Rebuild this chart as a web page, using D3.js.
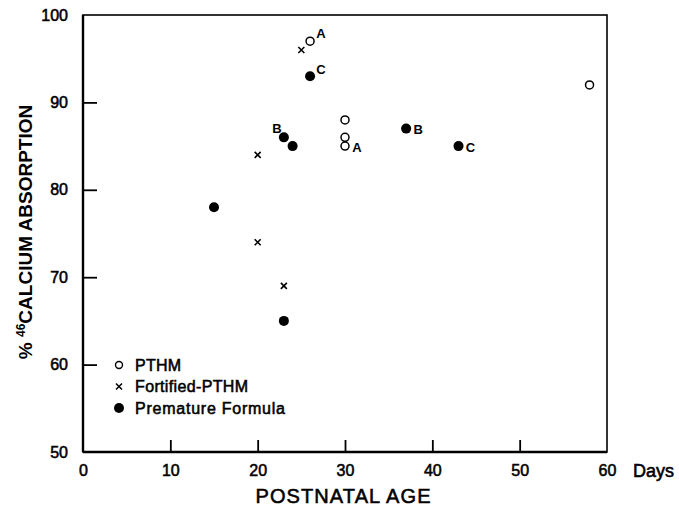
<!DOCTYPE html>
<html>
<head>
<meta charset="utf-8">
<script src="https://cdn.jsdelivr.net/npm/d3@7"></script>
<style>
  body { margin: 0; background: #fff; }
  svg { font-family: "Liberation Sans", Arial, sans-serif; }
  .med { stroke: #000; stroke-width: 0.55px; }
</style>
</head>
<body>
<div id="js_chart"></div>
<script>
// data (day, % absorption, label)
const pthm = [
    {x: 26, y: 97, lab: "A"},
    {x: 30, y: 88, lab: ""},
    {x: 30, y: 86, lab: ""},
    {x: 30, y: 85, lab: "A"},
    {x: 58, y: 92, lab: ""}
];
const fortified = [
    {x: 25, y: 96},
    {x: 20, y: 84},
    {x: 20, y: 74},
    {x: 23, y: 69}
];
const premature = [
    {x: 26, y: 93, lab: "C"},
    {x: 23, y: 86, lab: "B"},
    {x: 24, y: 85, lab: ""},
    {x: 15, y: 78, lab: ""},
    {x: 23, y: 65, lab: ""},
    {x: 37, y: 87, lab: "B"},
    {x: 43, y: 85, lab: "C"}
];
const legendNames = ["PTHM", "Fortified-PTHM", "Premature Formula"];
const xTicks = [0, 10, 20, 30, 40, 50, 60];
const yTicks = [50, 60, 70, 80, 90, 100];

// where each letter sits next to its point
const labelPlace = {
    "pthm-0": [11, -8], "pthm-3": [12, 1],
    "prem-0": [11, -7], "prem-1": [-7, -9],
    "prem-5": [12, 1], "prem-6": [12, 1]
};

let margin = {top: 15, left: 83},
    width = 524,
    height = 437;

let svg = d3.select("#js_chart").append("svg")
    .attr("width", 679)
    .attr("height", 506);

let x = d3.scaleLinear().domain([0, 60]).range([margin.left, margin.left + width]);
let y = d3.scaleLinear().domain([50, 100]).range([margin.top + height, margin.top]);

// ******************************************************
// frame + ticks
// ******************************************************
svg.append("rect")
    .attr("x", x(0)).attr("y", y(100))
    .attr("width", width).attr("height", height)
    .attr("fill", "none").attr("stroke", "#000").attr("stroke-width", 1.6);

svg.append("line")
    .attr("x1", x(0)).attr("x2", x(60)).attr("y1", y(50)).attr("y2", y(50))
    .attr("stroke", "#000").attr("stroke-width", 2.4);
svg.append("line")
    .attr("x1", x(0)).attr("x2", x(0)).attr("y1", y(100)).attr("y2", y(50))
    .attr("stroke", "#000").attr("stroke-width", 2.4);

let xAx = svg.append("g")
    .attr("transform", "translate(0," + y(50) + ")")
    .call(d3.axisBottom(x).tickValues(xTicks.slice(1, -1)).tickSize(-12).tickFormat(""));
xAx.select(".domain").remove();
xAx.selectAll("line").attr("stroke-width", 1.8);

let yAx = svg.append("g")
    .attr("transform", "translate(" + x(0) + ",0)")
    .call(d3.axisLeft(y).tickValues(yTicks.slice(1, -1)).tickSize(-14).tickFormat(""));
yAx.select(".domain").remove();
yAx.selectAll("line").attr("stroke-width", 1.8);

let xLab = svg.append("g")
    .attr("transform", "translate(0," + y(50) + ")")
    .call(d3.axisBottom(x).tickValues(xTicks).tickSize(0).tickPadding(13));
xLab.select(".domain").remove();
xLab.selectAll("text").attr("font-size", 16).attr("class", "med")
    .attr("font-family", null).attr("fill", "#000");

let yLab = svg.append("g")
    .attr("transform", "translate(" + x(0) + ",0)")
    .call(d3.axisLeft(y).tickValues(yTicks).tickSize(0).tickPadding(15));
yLab.select(".domain").remove();
yLab.selectAll("text").attr("font-size", 16).attr("class", "med")
    .attr("font-family", null).attr("fill", "#000");

svg.append("text")
    .attr("x", 633).attr("y", y(50) + 25)
    .attr("font-size", 18).attr("class", "med")
    .text("Days");

svg.append("text")
    .attr("x", 343).attr("y", 503)
    .attr("text-anchor", "middle")
    .attr("font-size", 20).attr("class", "med")
    .attr("textLength", 175)
    .text("POSTNATAL AGE");

let yTitle = svg.append("text")
    .attr("transform", "translate(32,232) rotate(-90)")
    .attr("text-anchor", "middle")
    .attr("font-size", 19).attr("font-weight", "bold");
yTitle.append("tspan").text("% ");
yTitle.append("tspan").attr("font-size", 12).attr("dy", -7).text("46");
yTitle.append("tspan").attr("dy", 7).text("CALCIUM ABSORPTION");

// ******************************************************
// markers
// ******************************************************
function openCircle(g) {
    g.append("circle").attr("r", 4).attr("fill", "#fff")
        .attr("stroke", "#000").attr("stroke-width", 1.5);
}
function cross(g) {
    g.append("path").attr("d", "M-3,-3L3,3M-3,3L3,-3")
        .attr("stroke", "#000").attr("stroke-width", 1.6);
}
function dot(g) {
    g.append("circle").attr("r", 5).attr("fill", "#000");
}

function plotSeries(data, key, draw) {
    svg.append("g").selectAll("g")
        .data(data)
        .enter().append("g")
        .attr("transform", d => "translate(" + x(d.x) + "," + y(d.y) + ")")
        .each(function (d, i) {
            let g = d3.select(this);
            draw(g);
            if (d.lab) {
                let off = labelPlace[key + "-" + i];
                g.append("text")
                    .attr("x", off[0]).attr("y", off[1])
                    .attr("dy", "0.35em")
                    .attr("text-anchor", "middle")
                    .attr("font-size", 13).attr("font-weight", "bold")
                    .text(d.lab);
            }
        });
}

plotSeries(fortified, "fort", cross);
plotSeries(pthm, "pthm", openCircle);
plotSeries(premature, "prem", dot);

// ******************************************************
// legend
// ******************************************************
let leg = svg.append("g").selectAll("g")
    .data(legendNames)
    .enter().append("g")
    .attr("transform", (d, i) => "translate(119," + (365 + i * 21.5) + ")");
leg.each(function (d, i) {
    let g = d3.select(this);
    if (i === 0) g.append("circle").attr("r", 3.5).attr("fill", "#fff").attr("stroke", "#000").attr("stroke-width", 1.4);
    else if (i === 1) g.append("path").attr("d", "M-3,-3L3,3M-3,3L3,-3").attr("stroke", "#000").attr("stroke-width", 1.5);
    else dot(g);
});
leg.append("text")
    .attr("x", 16).attr("dy", "0.35em")
    .attr("font-size", 16).attr("class", "med")
    .attr("textLength", 150)
    .attr("textLength", (d, i) => [46, 113, 150][i])
    .text(d => d);
</script>
</body>
</html>
